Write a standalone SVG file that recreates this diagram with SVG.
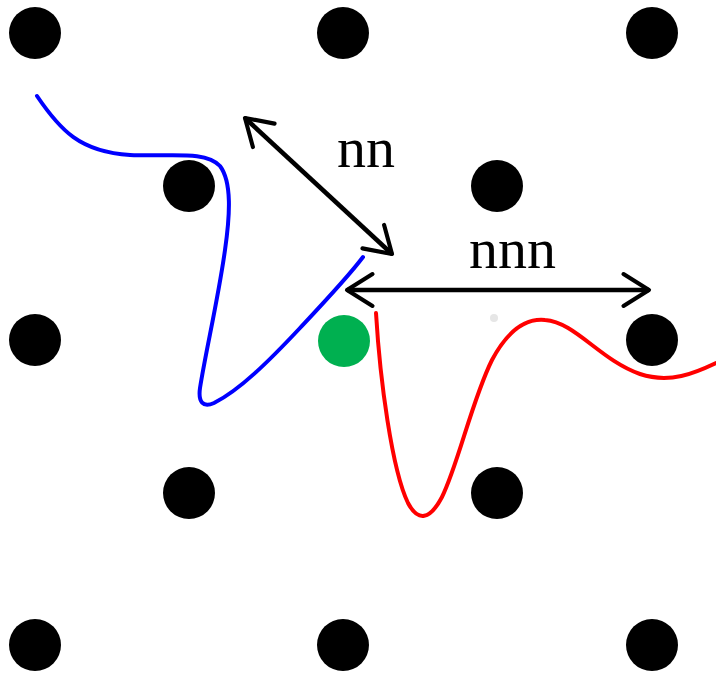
<svg xmlns="http://www.w3.org/2000/svg" width="716" height="677" viewBox="0 0 716 677">
<defs>
<marker id="chev" viewBox="0 0 12 12" refX="10" refY="6" markerWidth="8.5" markerHeight="8.5" markerUnits="strokeWidth" orient="auto-start-reverse">
<path d="M2,1 L10,6 L2,11" fill="none" stroke="#000" stroke-width="1.3" stroke-linecap="round" stroke-linejoin="round"/>
</marker>
</defs>
<style>
.dot{fill:#000}
.lbl{font-family:"Liberation Serif","Times New Roman",serif;font-size:58px;fill:#000}
.arr{stroke:#000;stroke-width:4.5;fill:none;marker-start:url(#chev);marker-end:url(#chev)}
</style>
<rect width="716" height="677" fill="#fff"/>
<g id="dots">
<circle id="d1" class="dot" cx="35" cy="33" r="26"/>
<circle id="d2" class="dot" cx="343" cy="33" r="26"/>
<circle id="d3" class="dot" cx="652" cy="33" r="26"/>
<circle id="d4" class="dot" cx="189" cy="186" r="26"/>
<circle id="d5" class="dot" cx="497" cy="186" r="26"/>
<circle id="d6" class="dot" cx="35" cy="340" r="26"/>
<circle id="center" cx="344" cy="341" r="26" fill="#00b050"/>
<circle id="d7" class="dot" cx="652" cy="340" r="26"/>
<circle id="d8" class="dot" cx="189" cy="493" r="26"/>
<circle id="d9" class="dot" cx="497" cy="493" r="26"/>
<circle id="d10" class="dot" cx="35" cy="645" r="26"/>
<circle id="d11" class="dot" cx="343" cy="645" r="26"/>
<circle id="d12" class="dot" cx="652" cy="645" r="26"/>
<circle cx="494" cy="318" r="4" fill="#e6e6e6"/>
</g>
<g id="curves" fill="none" stroke-width="4" stroke-linecap="round">
<path id="blue" stroke="#0000ff" d="M37,96 C60,130 80,152 130,155 C170,157 205,150 220,166 C232,182 230,215 225,250 C218,300 206,350 200,388 C198,402 203,408 214,403 C240,390 270,360 300,328 C330,296 348,277 363,257"/>
<path id="red" stroke="#ff0000" d="M376,313 C380,380 392,470 408,503 C418,522 430,520 442,497 C458,465 472,400 492,360 C507,332 525,318 545,320 C575,322 600,360 640,374 C670,384 695,373 716,363"/>
</g>
<g id="connectors">
<line class="arr" x1="245" y1="118" x2="392" y2="254"/>
<line class="arr" x1="347" y1="290" x2="649" y2="290"/>
</g>
<g id="labels">
<text class="lbl" x="337" y="167">nn</text>
<text class="lbl" x="469" y="268">nnn</text>
</g>
</svg>
